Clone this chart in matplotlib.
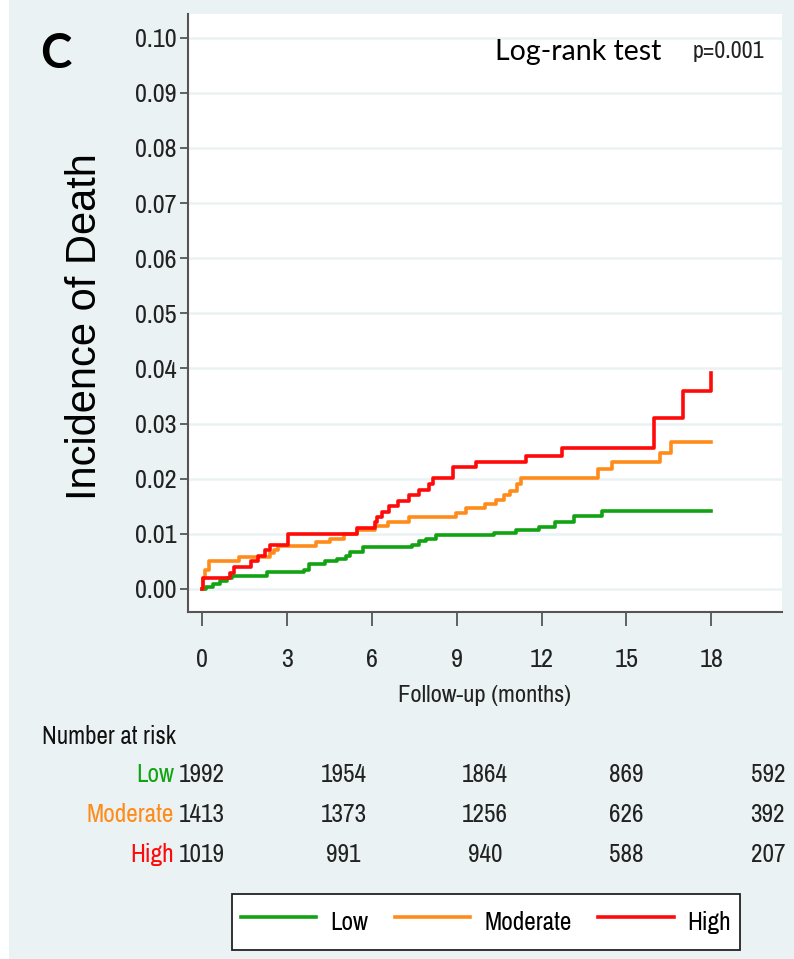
import matplotlib
matplotlib.use("Agg")
import matplotlib.pyplot as plt
import matplotlib.transforms as mtransforms
from matplotlib import font_manager
from matplotlib.patches import Rectangle

# step curves (months, cumulative incidence)
t_low = [0, 0.13, 0.38, 0.63, 0.88, 1.07, 2.30, 3.59, 3.78, 4.34, 4.78, 5.10, 5.22, 5.69,
         7.43, 7.65, 7.93, 8.28, 10.32, 11.10, 11.90, 12.46, 13.16, 14.13, 18.0]
v_low = [0, 0.0003, 0.0008, 0.0014, 0.0020, 0.0024, 0.0031, 0.0035, 0.0045, 0.0051, 0.0055,
         0.0060, 0.0067, 0.0076, 0.0080, 0.0087, 0.0091, 0.0097, 0.0102, 0.0107, 0.0112,
         0.0122, 0.0132, 0.0142, 0.0142]

t_mod = [0, 0.03, 0.10, 0.23, 1.30, 2.39, 2.54, 2.67, 4.03, 4.53, 5.01, 5.48, 6.11, 6.57,
         7.30, 8.98, 9.32, 10.01, 10.39, 10.68, 10.89, 11.14, 11.27, 14.00, 14.48, 16.20,
         16.59, 18.0]
v_mod = [0, 0.0020, 0.0035, 0.0050, 0.0057, 0.0065, 0.0071, 0.0077, 0.0085, 0.0091, 0.0099,
         0.0106, 0.0114, 0.0122, 0.0130, 0.0138, 0.0146, 0.0154, 0.0162, 0.0171, 0.0178,
         0.0191, 0.0201, 0.0217, 0.0231, 0.0247, 0.0267, 0.0267]

t_high = [0, 0.03, 0.97, 1.11, 1.72, 1.99, 2.23, 2.39, 3.02, 5.48, 6.11, 6.17, 6.36, 6.61,
          6.92, 7.30, 7.68, 8.03, 8.16, 8.88, 9.67, 11.46, 12.72, 15.99, 16.99, 18.0, 18.0]
v_high = [0, 0.0020, 0.0029, 0.0040, 0.0050, 0.0059, 0.0070, 0.0079, 0.0100, 0.0110, 0.0121,
          0.0130, 0.0140, 0.0150, 0.0160, 0.0170, 0.0180, 0.0191, 0.0201, 0.0221, 0.0231,
          0.0241, 0.0256, 0.0310, 0.0359, 0.0359, 0.0391]

groups = ["Low", "Moderate", "High"]
colors = ["#12a312", "#ff8c1a", "#ff0a0a"]

risk_times = [0, 5, 10, 15, 20]
risk_low = [1992, 1954, 1864, 869, 592]
risk_mod = [1413, 1373, 1256, 626, 392]
risk_high = [1019, 991, 940, 588, 207]

x_ticks = [0, 3, 6, 9, 12, 15, 18]
y_ticks = [0.00, 0.01, 0.02, 0.03, 0.04, 0.05, 0.06, 0.07, 0.08, 0.09, 0.10]

bg = "#eaf2f3"
W, H = 794, 959

# a narrow face if one is installed, otherwise plain Liberation Sans a bit smaller
names = sorted({f.name for f in font_manager.fontManager.ttflist})
cond = [n for n in names if "Narrow" in n or "Condensed" in n]
if cond:
    narrow = [cond[0], "Liberation Sans"]
    k = 1.15
else:
    narrow = ["Liberation Sans", "DejaVu Sans"]
    k = 1.0

fig = plt.figure(figsize=(W / 100, H / 100), dpi=100, facecolor=bg)
fig.patches.append(Rectangle((0, 0), 9 / W, 1, transform=fig.transFigure,
                             facecolor="white", edgecolor="none", zorder=-1))

ax = fig.add_axes([188 / W, 1 - 612 / H, (782 - 188) / W, (612 - 14) / H])
ax.set_facecolor("white")

for t, v, c, g in zip([t_low, t_mod, t_high], [v_low, v_mod, v_high], colors, groups):
    ax.step(t, v, where="post", color=c, lw=2.6, label=g, zorder=3)

ax.set_xlim(-0.5, 20.5)
ax.set_ylim(-0.0042, 0.1043)
ax.set_xticks(x_ticks)
ax.set_yticks(y_ticks)
ax.set_yticklabels(["%.2f" % y for y in y_ticks], family=narrow, fontsize=16.5 * k,
                   color="#222222")
ax.set_xticklabels([str(x) for x in x_ticks], family=narrow, fontsize=16.5 * k,
                   color="#222222")
ax.yaxis.grid(True, color=bg, lw=1.8)
ax.set_axisbelow(True)
for s in ["top", "right"]:
    ax.spines[s].set_visible(False)
for s in ["left", "bottom"]:
    ax.spines[s].set_color("#555555")
    ax.spines[s].set_linewidth(1.5)
ax.tick_params(axis="y", length=6, width=1.3, color="#555555", pad=2)
ax.tick_params(axis="x", length=10, width=1.3, color="#555555", pad=16)

ax.set_ylabel("Incidence of Death", family="Liberation Sans", fontsize=30,
              ha="center", va="center")
ax.yaxis.set_label_coords(-0.173, 0.478)
ax.set_xlabel("Follow-up (months)", family=narrow, fontsize=15.4 * k, labelpad=10,
              color="#222222")

# panel letter and test text
fig.text(40 / W, 1 - 54 / H, "C", family="Lato", weight="bold", fontsize=34, va="center")
fig.text(495 / W, 1 - 52 / H, "Log-rank test", family="Lato", fontsize=20.5, va="center")
fig.text(693 / W, 1 - 52 / H, "p=0.001", family=narrow, fontsize=15 * k, va="center",
         color="#222222")

# number at risk table
tr = mtransforms.blended_transform_factory(ax.transData, fig.transFigure)
fig.text(42 / W, 1 - 737 / H, "Number at risk", family=narrow, fontsize=15.6 * k,
         va="center", color="#111111")
row_y = [775, 815, 855]
for g, c, nums, yy in zip(groups, colors, [risk_low, risk_mod, risk_high], row_y):
    fig.text(174 / W, 1 - yy / H, g, family=narrow, fontsize=15.8 * k, color=c,
             ha="right", va="center")
    for tt, n in zip(risk_times, nums):
        ax.text(tt, 1 - yy / H, str(n), transform=tr, family=narrow, fontsize=15.8 * k,
                ha="center", va="center", color="#222222", clip_on=False)

leg = ax.legend(loc="center", bbox_to_anchor=(486 / W, 1 - 922 / H),
                bbox_transform=fig.transFigure, ncol=3, frameon=True,
                fancybox=False, edgecolor="#222222", facecolor="white", framealpha=1,
                prop={"family": narrow, "size": 15.8 * k},
                handlelength=3.0, handleheight=1.9, columnspacing=1.05,
                borderpad=0.35, handletextpad=0.55)
leg.get_frame().set_linewidth(1.3)

fig.savefig("out.png", dpi=100, facecolor=bg)
